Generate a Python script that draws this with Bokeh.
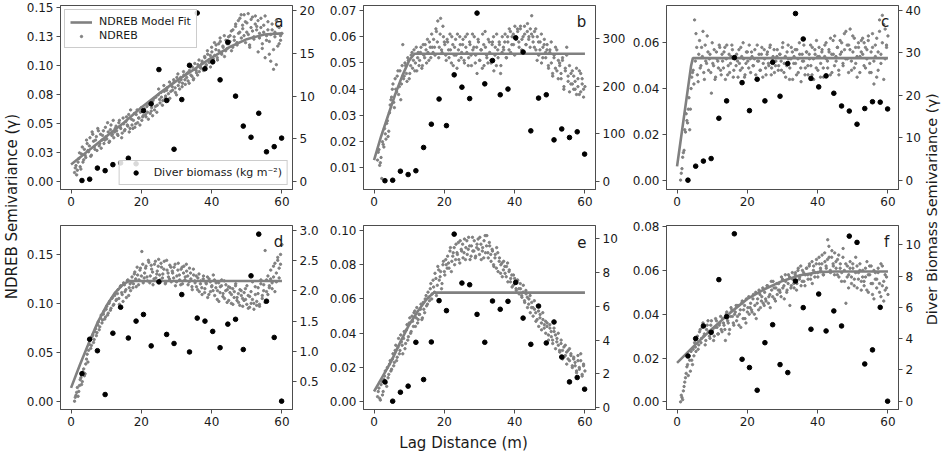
import numpy as np
from math import pi
from bokeh.plotting import figure
from bokeh.models import (Range1d, LinearAxis, FixedTicker, Label, Legend, LegendItem,
                          NumeralTickFormatter)
from bokeh.layouts import row, column
from bokeh.embed import file_html
from bokeh.resources import INLINE

FONT = "DejaVu Sans"
GRAY = "#808080"
AX = "#4d4d4d"
TXT = "#1a1a1a"

# ---------------- data ----------------
letters = ["a", "b", "c", "d", "e", "f"]
x_ticks = [0, 20, 40, 60]

# lag distances of the diver-biomass semivariogram points
lag_diver = [3.1, 5.3, 7.5, 9.7, 11.9, 14.1, 16.3, 18.5, 20.6, 22.8, 25.0, 27.2, 29.3, 31.5,
             33.7, 35.9, 38.1, 40.3, 42.4, 44.6, 46.8, 49.0, 51.2, 53.4, 55.6, 57.8, 59.9]

diver_a = [0.15, 0.3, 1.6, 1.3, 2.0, 2.2, 2.75, 2.1, 8.3, 9.1, 13.1, 9.5, 3.8, 9.6, 13.6, 19.7,
           13.2, 14.0, 11.9, 16.3, 10.0, 6.5, 5.2, 8.0, 3.5, 4.1, 5.1]
diver_b = [1, 2, 21, 14, 22, 71, 120, 173, 117, 224, 198, 174, 354, 205, 254, 182, 194, 302,
           272, 106, 175, 182, 87, 110, 92, 104, 57]
diver_c = [0, 3.3, 4.5, 5.1, 14.6, 18.7, 28.9, 23.0, 16.4, 23.8, 18.7, 27.8, 19.8, 27.5, 39.3,
           33.3, 24.0, 22.0, 24.6, 20.5, 17.5, 16.3, 13.2, 16.9, 18.5, 18.4, 16.8]
diver_d = [0.63, 1.20, 1.01, 0.285, 1.30, 1.73, 1.22, 1.50, 1.61, 1.09, 2.15, 1.28, 1.13, 1.94,
           0.99, 1.55, 1.50, 1.33, 1.06, 1.45, 1.53, 1.03, 2.25, 2.94, 1.83, 1.23, 0.175]
diver_e = [1.53, 0.39, 0.92, 1.28, 3.87, 1.67, 3.89, 6.33, 5.74, 10.26, 7.37, 7.27, 5.52, 3.87,
           6.31, 5.82, 6.29, 7.41, 5.30, 3.75, 6.01, 3.83, 5.07, 3.0, 1.53, 1.79, 1.1]
diver_f = [2.89, 4.0, 4.81, 4.40, 7.77, 5.40, 10.7, 2.68, 2.15, 0.70, 3.74, 4.89, 2.34, 1.83,
           7.68, 5.98, 4.60, 6.85, 4.49, 5.77, 4.81, 10.55, 10.15, 2.38, 3.28, 6.0, 0.0]

# NDREB model fits
fit_a_x = [0, 5, 10, 15, 20, 25, 30, 35, 40, 45, 50, 55, 60]
fit_a_y = [0.015, 0.027, 0.039, 0.051, 0.064, 0.076, 0.087, 0.097, 0.107, 0.116, 0.123, 0.127, 0.128]
fit_b_x = [0, 2, 4, 6, 8, 10, 11.5, 60]
fit_b_y = [0.013, 0.022, 0.030, 0.038, 0.045, 0.051, 0.0535, 0.0535]
fit_c_x = [0, 1, 2, 3, 4, 4.5, 60]
fit_c_y = [0.006, 0.017, 0.028, 0.039, 0.050, 0.0533, 0.0533]
fit_d_x = [0, 2.5, 5, 7.5, 10, 12.5, 15, 16.5, 60]
fit_d_y = [0.0136, 0.037, 0.059, 0.080, 0.097, 0.111, 0.120, 0.1228, 0.1228]
fit_e_x = [0, 2.5, 5, 7.5, 10, 12.5, 15, 17, 60]
fit_e_y = [0.006, 0.015, 0.024, 0.035, 0.045, 0.053, 0.060, 0.0637, 0.0637]
fit_f_x = [0, 5, 10, 15, 20, 25, 30, 35, 40, 45, 60]
fit_f_y = [0.0178, 0.0258, 0.0334, 0.0405, 0.047, 0.0515, 0.0552, 0.0578, 0.0592, 0.0595, 0.0595]

# NDREB empirical semivariance, first set: lags evenly spaced 1.0 .. 60.0 m
gray_a = [0.008,0.014,0.010,0.020,0.013,0.024,0.017,0.028,0.021,0.033,
 0.026,0.038,0.023,0.041,0.030,0.036,0.027,0.044,0.033,0.029,
 0.040,0.033,0.047,0.037,0.043,0.035,0.049,0.041,0.038,0.046,
 0.044,0.040,0.053,0.046,0.042,0.050,0.045,0.056,0.048,0.043,
 0.062,0.049,0.053,0.047,0.058,0.051,0.055,0.060,0.053,0.057,
 0.063,0.056,0.060,0.067,0.059,0.064,0.070,0.062,0.073,0.066,
 0.080,0.068,0.073,0.070,0.078,0.074,0.081,0.076,0.072,0.084,
 0.079,0.086,0.077,0.090,0.083,0.080,0.088,0.085,0.092,0.084,
 0.090,0.087,0.096,0.092,0.099,0.089,0.097,0.094,0.101,0.095,
 0.098,0.104,0.096,0.107,0.101,0.110,0.103,0.099,0.112,0.106,
 0.109,0.118,0.105,0.113,0.121,0.110,0.116,0.108,0.122,0.115,
 0.119,0.126,0.113,0.131,0.122,0.136,0.118,0.128,0.141,0.124,
 0.132,0.144,0.120,0.137,0.127,0.116,0.140,0.130,0.123,0.143,
 0.134,0.112,0.128,0.141,0.119,0.135,0.107,0.126,0.138,0.121,
 0.104,0.131,0.097,0.125,0.139,0.117,0.133,0.122,0.128]
gray_b = [0.013,0.017,0.012,0.006,0.019,0.025,0.021,0.028,0.024,0.034,
 0.037,0.042,0.033,0.040,0.045,0.038,0.047,0.042,0.057,0.045,
 0.049,0.043,0.051,0.046,0.053,0.048,0.055,0.050,0.047,0.054,
 0.051,0.056,0.049,0.053,0.057,0.050,0.054,0.058,0.052,0.056,
 0.059,0.053,0.062,0.066,0.056,0.067,0.054,0.060,0.057,0.051,
 0.058,0.052,0.055,0.060,0.049,0.056,0.053,0.061,0.051,0.057,
 0.054,0.059,0.050,0.056,0.061,0.052,0.057,0.049,0.055,0.060,
 0.053,0.046,0.058,0.051,0.055,0.061,0.049,0.056,0.052,0.059,
 0.054,0.050,0.058,0.047,0.056,0.061,0.052,0.057,0.049,0.060,
 0.055,0.061,0.052,0.058,0.063,0.054,0.060,0.057,0.064,0.059,
 0.062,0.056,0.064,0.059,0.054,0.061,0.057,0.065,0.060,0.063,
 0.068,0.058,0.062,0.055,0.060,0.053,0.058,0.050,0.056,0.059,
 0.052,0.057,0.048,0.055,0.050,0.045,0.053,0.056,0.047,0.051,
 0.049,0.044,0.052,0.041,0.047,0.056,0.043,0.039,0.046,0.042,
 0.045,0.040,0.038,0.044,0.047,0.039,0.042,0.037,0.041]
gray_c = [0.000,0.005,0.012,0.022,0.029,0.025,0.036,0.031,0.045,0.048,
 0.070,0.064,0.046,0.055,0.049,0.058,0.065,0.044,0.052,0.063,
 0.048,0.055,0.038,0.051,0.057,0.045,0.053,0.049,0.058,0.046,
 0.052,0.056,0.044,0.059,0.050,0.047,0.054,0.057,0.048,0.053,
 0.055,0.045,0.051,0.058,0.049,0.053,0.046,0.056,0.052,0.059,
 0.047,0.054,0.050,0.057,0.044,0.052,0.055,0.048,0.058,0.051,
 0.053,0.046,0.056,0.050,0.059,0.049,0.054,0.047,0.052,0.057,
 0.050,0.055,0.048,0.060,0.051,0.045,0.056,0.053,0.049,0.058,
 0.044,0.054,0.051,0.057,0.047,0.055,0.043,0.052,0.059,0.049,
 0.056,0.046,0.053,0.050,0.058,0.044,0.055,0.061,0.048,0.054,
 0.051,0.057,0.045,0.059,0.053,0.049,0.056,0.062,0.047,0.055,
 0.063,0.052,0.058,0.046,0.055,0.060,0.050,0.057,0.065,0.053,
 0.059,0.066,0.048,0.056,0.062,0.051,0.045,0.058,0.054,0.061,
 0.055,0.060,0.049,0.057,0.063,0.051,0.047,0.058,0.042,0.054,
 0.062,0.048,0.070,0.055,0.072,0.044,0.066,0.058,0.063]
gray_d = [0.000,0.006,0.014,0.010,0.022,0.017,0.030,0.026,0.038,0.048,
 0.052,0.062,0.057,0.068,0.063,0.074,0.070,0.081,0.076,0.088,
 0.083,0.092,0.086,0.097,0.090,0.102,0.095,0.106,0.099,0.110,
 0.104,0.114,0.099,0.118,0.109,0.121,0.112,0.106,0.124,0.116,
 0.113,0.127,0.120,0.132,0.117,0.129,0.124,0.136,0.153,0.121,
 0.131,0.138,0.123,0.142,0.128,0.135,0.119,0.140,0.126,0.133,
 0.145,0.124,0.137,0.130,0.143,0.121,0.134,0.127,0.139,0.122,
 0.131,0.137,0.118,0.128,0.141,0.124,0.135,0.120,0.138,0.127,
 0.133,0.119,0.136,0.125,0.114,0.129,0.121,0.117,0.126,0.112,
 0.123,0.109,0.128,0.115,0.120,0.106,0.125,0.112,0.118,0.129,
 0.108,0.121,0.113,0.102,0.117,0.124,0.110,0.105,0.119,0.114,
 0.103,0.116,0.109,0.099,0.112,0.120,0.106,0.101,0.114,0.108,
 0.097,0.111,0.104,0.118,0.095,0.107,0.100,0.122,0.094,0.109,
 0.102,0.116,0.097,0.124,0.108,0.119,0.154,0.112,0.128,0.118,
 0.134,0.115,0.127,0.141,0.122,0.147,0.136,0.150,0.160]
gray_e = [0.003,0.008,0.001,0.012,0.006,0.015,0.011,0.020,0.016,0.024,
 0.019,0.028,0.023,0.033,0.026,0.037,0.030,0.035,0.028,0.041,
 0.034,0.045,0.038,0.049,0.041,0.047,0.052,0.044,0.055,0.048,
 0.051,0.057,0.049,0.054,0.060,0.056,0.064,0.059,0.069,0.063,
 0.067,0.075,0.062,0.079,0.071,0.076,0.069,0.082,0.074,0.080,
 0.085,0.078,0.090,0.082,0.087,0.080,0.092,0.086,0.083,0.094,
 0.088,0.084,0.095,0.090,0.086,0.096,0.083,0.091,0.088,0.094,
 0.085,0.092,0.089,0.096,0.083,0.090,0.094,0.087,0.097,0.084,
 0.091,0.082,0.088,0.079,0.086,0.090,0.076,0.084,0.080,0.073,
 0.082,0.075,0.079,0.070,0.077,0.072,0.067,0.074,0.069,0.065,
 0.071,0.063,0.066,0.061,0.068,0.058,0.063,0.055,0.060,0.052,
 0.058,0.050,0.054,0.047,0.056,0.044,0.051,0.042,0.048,0.045,
 0.040,0.046,0.036,0.043,0.038,0.034,0.041,0.031,0.037,0.033,
 0.029,0.036,0.025,0.032,0.027,0.022,0.030,0.024,0.028,0.020,
 0.026,0.021,0.017,0.024,0.019,0.028,0.015,0.022,0.018]
gray_f = [0.000,0.002,0.005,0.009,0.013,0.017,0.021,0.014,0.019,0.024,
 0.027,0.023,0.030,0.026,0.033,0.029,0.036,0.031,0.028,0.035,
 0.032,0.029,0.037,0.033,0.030,0.038,0.034,0.031,0.036,0.033,
 0.038,0.035,0.028,0.041,0.036,0.033,0.043,0.039,0.035,0.041,
 0.037,0.044,0.040,0.034,0.046,0.042,0.038,0.047,0.043,0.040,
 0.045,0.041,0.049,0.044,0.038,0.047,0.051,0.043,0.048,0.045,
 0.050,0.046,0.053,0.048,0.043,0.051,0.055,0.047,0.052,0.049,
 0.054,0.050,0.057,0.052,0.047,0.055,0.051,0.058,0.044,0.053,
 0.056,0.052,0.059,0.054,0.061,0.057,0.053,0.060,0.055,0.058,
 0.061,0.056,0.063,0.058,0.054,0.062,0.059,0.065,0.057,0.063,
 0.060,0.067,0.058,0.064,0.061,0.074,0.066,0.059,0.069,0.062,
 0.068,0.061,0.065,0.057,0.063,0.059,0.070,0.055,0.045,0.062,
 0.058,0.064,0.054,0.061,0.056,0.066,0.052,0.059,0.063,0.055,
 0.060,0.053,0.057,0.064,0.050,0.058,0.062,0.054,0.047,0.059,
 0.056,0.061,0.050,0.063,0.053,0.046,0.058,0.052,0.049]

# NDREB empirical semivariance, second set: lags evenly spaced 1.2 .. 59.6 m
gray2_a = [0.012,0.006,0.017,0.025,0.011,0.030,0.019,0.023,0.036,0.027,
 0.031,0.022,0.043,0.035,0.028,0.039,0.046,0.031,0.041,0.036,
 0.044,0.036,0.039,0.051,0.034,0.045,0.040,0.053,0.043,0.048,
 0.041,0.051,0.047,0.038,0.055,0.044,0.052,0.049,0.058,0.046,
 0.054,0.046,0.059,0.050,0.062,0.055,0.049,0.064,0.056,0.061,
 0.058,0.065,0.054,0.069,0.061,0.057,0.072,0.065,0.060,0.075,
 0.071,0.077,0.066,0.083,0.072,0.079,0.070,0.086,0.078,0.082,
 0.088,0.081,0.075,0.093,0.086,0.090,0.082,0.095,0.088,0.093,
 0.094,0.085,0.099,0.091,0.088,0.102,0.096,0.092,0.105,0.099,
 0.102,0.097,0.108,0.100,0.113,0.105,0.109,0.116,0.103,0.120,
 0.114,0.107,0.119,0.124,0.111,0.117,0.126,0.113,0.119,0.125,
 0.121,0.130,0.116,0.125,0.134,0.120,0.139,0.129,0.144,0.135,
 0.126,0.138,0.129,0.145,0.118,0.133,0.142,0.125,0.136,0.131,
 0.139,0.124,0.133,0.115,0.129,0.143,0.122,0.131,0.110,0.127,
 0.136,0.114,0.129,0.101,0.134,0.119,0.126]
gray2_b = [0.016,0.011,0.014,0.020,0.018,0.023,0.027,0.022,0.031,0.036,
 0.040,0.035,0.044,0.039,0.047,0.041,0.036,0.049,0.044,0.050,
 0.046,0.052,0.044,0.049,0.054,0.051,0.047,0.056,0.052,0.049,
 0.054,0.048,0.057,0.052,0.055,0.059,0.051,0.056,0.061,0.054,
 0.056,0.063,0.058,0.052,0.061,0.055,0.064,0.058,0.053,0.059,
 0.055,0.061,0.050,0.057,0.053,0.059,0.048,0.055,0.060,0.052,
 0.057,0.051,0.060,0.054,0.049,0.058,0.053,0.061,0.056,0.050,
 0.056,0.059,0.051,0.055,0.048,0.057,0.062,0.053,0.050,0.058,
 0.051,0.057,0.060,0.053,0.049,0.055,0.058,0.046,0.054,0.056,
 0.058,0.052,0.060,0.055,0.062,0.057,0.061,0.053,0.059,0.063,
 0.058,0.063,0.055,0.060,0.064,0.057,0.062,0.059,0.056,0.061,
 0.060,0.056,0.063,0.051,0.058,0.055,0.061,0.052,0.057,0.054,
 0.055,0.049,0.054,0.058,0.046,0.052,0.048,0.055,0.044,0.050,
 0.046,0.051,0.040,0.048,0.053,0.045,0.049,0.042,0.047,0.040,
 0.043,0.048,0.041,0.038,0.046,0.044,0.040]
gray2_c = [0.003,0.010,0.013,0.021,0.026,0.031,0.022,0.040,0.047,0.042,
 0.052,0.058,0.043,0.061,0.050,0.054,0.047,0.059,0.051,0.056,
 0.053,0.047,0.060,0.050,0.044,0.056,0.052,0.059,0.048,0.055,
 0.049,0.058,0.053,0.046,0.055,0.051,0.059,0.045,0.054,0.050,
 0.052,0.057,0.048,0.054,0.060,0.045,0.051,0.056,0.049,0.053,
 0.056,0.050,0.053,0.046,0.059,0.052,0.048,0.055,0.045,0.057,
 0.049,0.055,0.051,0.058,0.046,0.053,0.057,0.050,0.054,0.048,
 0.055,0.052,0.058,0.047,0.054,0.050,0.059,0.044,0.053,0.056,
 0.051,0.057,0.046,0.053,0.060,0.049,0.055,0.052,0.046,0.056,
 0.050,0.055,0.059,0.046,0.053,0.057,0.049,0.054,0.058,0.045,
 0.056,0.049,0.054,0.060,0.052,0.057,0.046,0.055,0.061,0.050,
 0.054,0.058,0.048,0.061,0.056,0.051,0.064,0.053,0.059,0.047,
 0.057,0.052,0.063,0.049,0.058,0.054,0.060,0.047,0.056,0.062,
 0.050,0.058,0.053,0.061,0.047,0.056,0.064,0.052,0.059,0.045,
 0.056,0.065,0.051,0.060,0.068,0.053,0.059]
gray2_d = [0.004,0.009,0.005,0.016,0.024,0.020,0.033,0.028,0.043,0.040,
 0.058,0.054,0.066,0.060,0.071,0.067,0.078,0.073,0.085,0.080,
 0.089,0.084,0.094,0.088,0.100,0.093,0.105,0.098,0.108,0.103,
 0.110,0.105,0.117,0.111,0.102,0.119,0.114,0.123,0.108,0.120,
 0.122,0.116,0.130,0.125,0.137,0.119,0.134,0.128,0.140,0.126,
 0.136,0.127,0.144,0.121,0.139,0.132,0.125,0.143,0.130,0.138,
 0.129,0.141,0.126,0.135,0.120,0.144,0.131,0.125,0.137,0.133,
 0.126,0.140,0.122,0.134,0.129,0.119,0.137,0.131,0.124,0.140,
 0.128,0.122,0.131,0.117,0.135,0.123,0.128,0.114,0.130,0.120,
 0.116,0.125,0.111,0.121,0.127,0.109,0.122,0.117,0.113,0.124,
 0.116,0.104,0.121,0.111,0.118,0.107,0.123,0.113,0.101,0.117,
 0.111,0.100,0.115,0.106,0.118,0.103,0.110,0.098,0.113,0.105,
 0.103,0.115,0.099,0.108,0.096,0.112,0.104,0.100,0.117,0.098,
 0.110,0.099,0.120,0.105,0.113,0.101,0.124,0.109,0.116,0.125,
 0.121,0.138,0.112,0.131,0.144,0.126,0.140]
gray2_e = [0.006,0.002,0.010,0.004,0.013,0.018,0.009,0.014,0.022,0.018,
 0.025,0.021,0.030,0.024,0.032,0.028,0.039,0.033,0.037,0.031,
 0.042,0.036,0.046,0.040,0.050,0.044,0.053,0.049,0.046,0.051,
 0.054,0.048,0.058,0.052,0.062,0.057,0.061,0.066,0.060,0.071,
 0.064,0.072,0.068,0.077,0.073,0.066,0.080,0.076,0.083,0.078,
 0.081,0.088,0.076,0.085,0.090,0.083,0.087,0.093,0.081,0.089,
 0.092,0.087,0.083,0.094,0.089,0.091,0.085,0.096,0.088,0.084,
 0.090,0.095,0.086,0.092,0.088,0.084,0.097,0.091,0.087,0.093,
 0.086,0.089,0.080,0.084,0.078,0.087,0.082,0.075,0.081,0.077,
 0.079,0.073,0.081,0.076,0.070,0.074,0.068,0.072,0.066,0.071,
 0.066,0.069,0.062,0.064,0.059,0.065,0.061,0.057,0.062,0.055,
 0.055,0.059,0.052,0.048,0.053,0.049,0.046,0.052,0.043,0.047,
 0.044,0.039,0.045,0.041,0.036,0.043,0.039,0.035,0.040,0.030,
 0.034,0.030,0.026,0.033,0.029,0.025,0.031,0.027,0.021,0.025,
 0.023,0.018,0.027,0.020,0.024,0.016,0.021]
gray2_f = [0.003,0.001,0.007,0.011,0.016,0.012,0.019,0.023,0.017,0.021,
 0.025,0.029,0.024,0.032,0.027,0.034,0.030,0.026,0.033,0.037,
 0.030,0.035,0.032,0.028,0.034,0.037,0.031,0.035,0.039,0.032,
 0.036,0.033,0.040,0.037,0.031,0.039,0.042,0.036,0.040,0.044,
 0.039,0.035,0.042,0.045,0.038,0.044,0.036,0.041,0.048,0.043,
 0.042,0.047,0.040,0.050,0.045,0.042,0.049,0.046,0.052,0.044,
 0.047,0.053,0.045,0.049,0.055,0.048,0.052,0.046,0.054,0.051,
 0.051,0.048,0.056,0.053,0.058,0.050,0.054,0.057,0.052,0.059,
 0.054,0.058,0.051,0.060,0.056,0.062,0.055,0.059,0.053,0.061,
 0.058,0.062,0.056,0.064,0.060,0.057,0.063,0.059,0.066,0.061,
 0.063,0.058,0.068,0.062,0.065,0.071,0.060,0.066,0.063,0.058,
 0.064,0.058,0.067,0.061,0.055,0.066,0.060,0.063,0.057,0.052,
 0.061,0.057,0.063,0.053,0.059,0.062,0.056,0.060,0.051,0.057,
 0.055,0.061,0.051,0.058,0.062,0.054,0.049,0.060,0.056,0.052,
 0.059,0.054,0.048,0.062,0.055,0.051,0.057]

# axis ticks
left_ticks_a = [0.0, 0.025, 0.05, 0.075, 0.1, 0.125, 0.15]
left_labels_a = ["0.00", "0.03", "0.05", "0.08", "0.10", "0.13", "0.15"]
left_ticks_b = [0.01, 0.02, 0.03, 0.04, 0.05, 0.06, 0.07]
left_ticks_c = [0.0, 0.02, 0.04, 0.06]
left_ticks_d = [0.0, 0.05, 0.10, 0.15]
left_ticks_e = [0.0, 0.02, 0.04, 0.06, 0.08, 0.10]
left_ticks_f = [0.0, 0.02, 0.04, 0.06, 0.08]
right_ticks_a = [0, 5, 10, 15, 20]
right_ticks_b = [0, 100, 200, 300]
right_ticks_c = [0, 10, 20, 30, 40]
right_ticks_d = [0.5, 1.0, 1.5, 2.0, 2.5, 3.0]
right_ticks_e = [0, 2, 4, 6, 8, 10]
right_ticks_f = [0, 2, 4, 6, 8, 10]

# ---------------- layout constants ----------------
FW, FH = 232, 184


def style_axis(ax):
    ax.axis_line_color = AX
    ax.major_tick_line_color = AX
    ax.minor_tick_line_color = None
    ax.major_tick_in = 0
    ax.major_tick_out = 4
    ax.major_label_standoff = 3
    ax.major_label_text_font = FONT
    ax.major_label_text_font_size = "12px"
    ax.major_label_text_color = TXT


def make_panel(letter, gray, gray2, fx, fy, diver, yl, yr, lticks, lfmt, rticks, rfmt,
               top, bottom, left, right, legend=False):
    p = figure(frame_width=FW, frame_height=FH, x_range=Range1d(-3, 63), y_range=Range1d(*yl),
               output_backend="svg", toolbar_location=None,
               min_border_left=left, min_border_right=right,
               min_border_top=top, min_border_bottom=bottom)
    p.extra_y_ranges = {"r": Range1d(*yr)}
    p.xgrid.visible = False
    p.ygrid.visible = False
    p.outline_line_color = AX
    p.outline_line_alpha = 1.0
    p.background_fill_color = "white"
    p.border_fill_color = "white"

    xg = np.linspace(1.0, 60.0, len(gray))
    xg2 = np.linspace(1.2, 59.6, len(gray2))
    r_gray = p.scatter(xg, gray, size=2.4, color=GRAY, marker="circle")
    p.scatter(xg2, gray2, size=2.4, color=GRAY, marker="circle")
    r_fit = p.line(fx, fy, line_width=2.6, color=GRAY)
    r_div = p.scatter(lag_diver, diver, size=4.6, color="black", marker="circle",
                      y_range_name="r")

    p.xaxis.ticker = FixedTicker(ticks=x_ticks)
    p.yaxis.ticker = FixedTicker(ticks=lticks)
    if isinstance(lfmt, dict):
        p.yaxis.major_label_overrides = lfmt
    else:
        p.yaxis.formatter = NumeralTickFormatter(format=lfmt)
    ax_r = LinearAxis(y_range_name="r", ticker=FixedTicker(ticks=rticks),
                      formatter=NumeralTickFormatter(format=rfmt))
    p.add_layout(ax_r, "right")
    for ax in [p.xaxis[0], p.yaxis[0], ax_r]:
        style_axis(ax)

    ytxt = yl[1] - (yl[1] - yl[0]) * 16.0 / FH
    p.add_layout(Label(x=60.4, y=ytxt, text=letter, text_align="right",
                       text_baseline="alphabetic", text_font=FONT,
                       text_font_size="15px", text_color=TXT))

    if legend:
        for items, loc, gh in (([LegendItem(label="NDREB Model Fit", renderers=[r_fit]),
                                 LegendItem(label="NDREB", renderers=[r_gray])], "top_left", 6),
                               ([LegendItem(label="Diver biomass (kg m\u207b\u00b2)",
                                            renderers=[r_div])], "bottom_right", 11)):
            lg = Legend(items=items, location=loc)
            lg.label_text_font = FONT
            lg.label_text_font_size = "11px"
            lg.label_text_color = TXT
            lg.glyph_width = 22
            lg.glyph_height = gh
            lg.label_height = 13
            lg.label_standoff = 7
            lg.spacing = 1
            lg.padding = 5
            lg.margin = 4
            lg.border_line_color = "#cccccc"
            lg.border_line_alpha = 1.0
            lg.background_fill_alpha = 0.85
            p.add_layout(lg)
    return p


fmt_a = dict(zip(left_ticks_a, left_labels_a))
pa = make_panel(letters[0], gray_a, gray2_a, fit_a_x, fit_a_y, diver_a, (-0.0066, 0.152),
                (-0.9, 20.58), left_ticks_a, fmt_a, right_ticks_a, "0", 5, 22, 38, 34, legend=True)
pb = make_panel(letters[1], gray_b, gray2_b, fit_b_x, fit_b_y, diver_b, (0.0018, 0.0719),
                (-17.5, 370), left_ticks_b, "0.00", right_ticks_b, "0", 5, 22, 35, 34)
pc = make_panel(letters[2], gray_c, gray2_c, fit_c_x, fit_c_y, diver_c, (-0.0041, 0.0763),
                (-2.2, 41.2), left_ticks_c, "0.00", right_ticks_c, "0", 5, 22, 35, 25)
pd_ = make_panel(letters[3], gray_d, gray2_d, fit_d_x, fit_d_y, diver_d, (-0.0085, 0.1796),
                 (0.037, 3.083), left_ticks_d, "0.00", right_ticks_d, "0.0", 14, 22, 38, 34)
pe = make_panel(letters[4], gray_e, gray2_e, fit_e_x, fit_e_y, diver_e, (-0.0045, 0.1029),
                (-0.1, 10.77), left_ticks_e, "0.00", right_ticks_e, "0", 14, 22, 35, 34)
pf = make_panel(letters[5], gray_f, gray2_f, fit_f_x, fit_f_y, diver_f, (-0.0035, 0.0805),
                (-0.53, 11.23), left_ticks_f, "0.00", right_ticks_f, "0", 14, 22, 35, 25)


def label_fig(w, h, text, x, y, angle, size="15px"):
    p = figure(width=w, height=h, x_range=Range1d(0, 1), y_range=Range1d(0, 1),
               x_axis_type=None, y_axis_type=None, output_backend="svg",
               toolbar_location=None, min_border=0)
    p.outline_line_color = None
    p.xgrid.visible = False
    p.ygrid.visible = False
    p.add_layout(Label(x=x, y=y, text=text, angle=angle, text_align="center",
                       text_baseline="middle", text_font=FONT, text_font_size=size,
                       text_color=TXT))
    return p


TOTAL_H = 453
grid_w = (38 + FW + 34) + (35 + FW + 34) + (35 + FW + 25)
left_lab = label_fig(22, TOTAL_H, "NDREB Semivariance (\u03b3)", 0.5, 0.545, pi / 2)
right_lab = label_fig(21, TOTAL_H, "Diver Biomass Semivariance (\u03b3)", 0.42, 0.539, pi / 2,
                      "14.5px")
bottom_lab = label_fig(grid_w, 22, "Lag Distance (m)", 0.4917, 0.5, 0)

layout = row(left_lab,
             column(row(pa, pb, pc), row(pd_, pe, pf), bottom_lab),
             right_lab)

open("out.html", "w").write(file_html(layout, INLINE))
